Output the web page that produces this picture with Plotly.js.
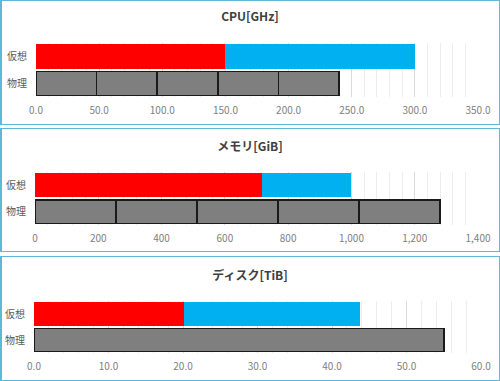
<!DOCTYPE html>
<html>
<head>
<meta charset="utf-8">
<script src="https://cdn.plot.ly/plotly-3.0.1.min.js"></script>
<style>
  html, body { margin: 0; padding: 0; background: #ffffff; }
  body { width: 500px; height: 381px; position: relative; overflow: hidden; }
  .chart { position: absolute; left: 0; width: 500px; }
  .frame { position: absolute; box-sizing: border-box; border: 1.5px solid #5DB9D8; border-left-width: 2px; pointer-events: none; }
</style>
</head>
<body>
<div id="cpu" class="chart" style="top:0px;height:125px;"></div>
<div id="mem" class="chart" style="top:128px;height:124px;"></div>
<div id="disk" class="chart" style="top:256px;height:125px;"></div>
<div class="frame" style="left:0px;top:0px;width:500px;height:125px;"></div>
<div class="frame" style="left:0px;top:128px;width:500px;height:124px;"></div>
<div class="frame" style="left:0px;top:256px;width:500px;height:125px;"></div>
<script>
// Categories (top to bottom)
const categories = ['仮想', '物理'];

// Panel titles
const cpuTitle = 'CPU[GHz]';
const memTitle = 'メモリ[GiB]';
const diskTitle = 'ディスク[TiB]';

// Virtual bar: [used (red), remaining (blue)] stacked segments
const cpuVirtual = [150, 150];
const memVirtual = [718, 282];
const diskVirtual = [20.1, 23.6];

// Physical bar: stacked host segments
const cpuPhysical = [48, 48, 48, 48, 48];
const memPhysical = [256, 256, 256, 256, 256];
const diskPhysical = [55.0];

// Axis ranges / ticks
const cpuRange = [0, 350];
const memRange = [0, 1400];
const diskRange = [0, 60];

const FONT = 'Noto Sans CJK JP, Noto Sans, sans-serif';

function makePanel(id, title, virt, phys, range, dtick, minorDtick, tickformat, m, titleY) {
  const virtColors = ['#FF0000', '#00B0F0'];
  const traces = [];
  virt.forEach((v, i) => {
    traces.push({
      type: 'bar', orientation: 'h',
      y: [categories[0]], x: [v],
      marker: { color: virtColors[i], line: { width: 0 } },
      hoverinfo: 'x', showlegend: false
    });
  });
  phys.forEach((v) => {
    traces.push({
      type: 'bar', orientation: 'h',
      y: [categories[1]], x: [v],
      marker: { color: '#7F7F7F', line: { color: '#1A1A1A', width: 1.5 } },
      hoverinfo: 'x', showlegend: false
    });
  });
  const el = document.getElementById(id);
  const layout = {
    width: 500, height: el.clientHeight,
    margin: m,
    paper_bgcolor: 'rgba(0,0,0,0)', plot_bgcolor: 'rgba(0,0,0,0)',
    barmode: 'stack', bargap: 0.11,
    font: { family: FONT, color: '#595959', size: 10 },
    title: {
      text: '<b>' + title + '</b>', x: 0.5, xanchor: 'center',
      xref: 'container', yref: 'container', y: titleY, yanchor: 'middle',
      font: { family: FONT, size: 12, color: '#404040' }
    },
    xaxis: {
      range: range, dtick: dtick, tick0: 0, tickformat: tickformat,
      showgrid: true, gridcolor: '#D9D9D9', gridwidth: 1,
      minor: { dtick: minorDtick, showgrid: true, gridcolor: '#EDEDED', gridwidth: 1 },
      zeroline: false, showline: false, ticks: '',
      ticklabelstandoff: 6,
      tickfont: { family: FONT, size: 10, color: '#808080' },
      fixedrange: true
    },
    yaxis: {
      type: 'category', categoryorder: 'array', categoryarray: categories.slice().reverse(),
      showgrid: false, zeroline: false, showline: false, ticks: '',
      ticklabelstandoff: 8,
      tickfont: { family: FONT, size: 10, color: '#595959' },
      fixedrange: true
    }
  };
  Plotly.newPlot(el, traces, layout, { displayModeBar: false, staticPlot: true });
}

makePanel('cpu', cpuTitle, cpuVirtual, cpuPhysical, cpuRange, 50, 10, '.1f',
  { l: 36, r: 22, t: 43, b: 28, pad: 0 }, 1 - 17 / 125);
makePanel('mem', memTitle, memVirtual, memPhysical, memRange, 200, 40, ',d',
  { l: 35, r: 22, t: 44, b: 27, pad: 0 }, 1 - 19 / 124);
makePanel('disk', diskTitle, diskVirtual, diskPhysical, diskRange, 10, 2, '.1f',
  { l: 34, r: 19, t: 45, b: 28, pad: 0 }, 1 - 20 / 125);
</script>
</body>
</html>
